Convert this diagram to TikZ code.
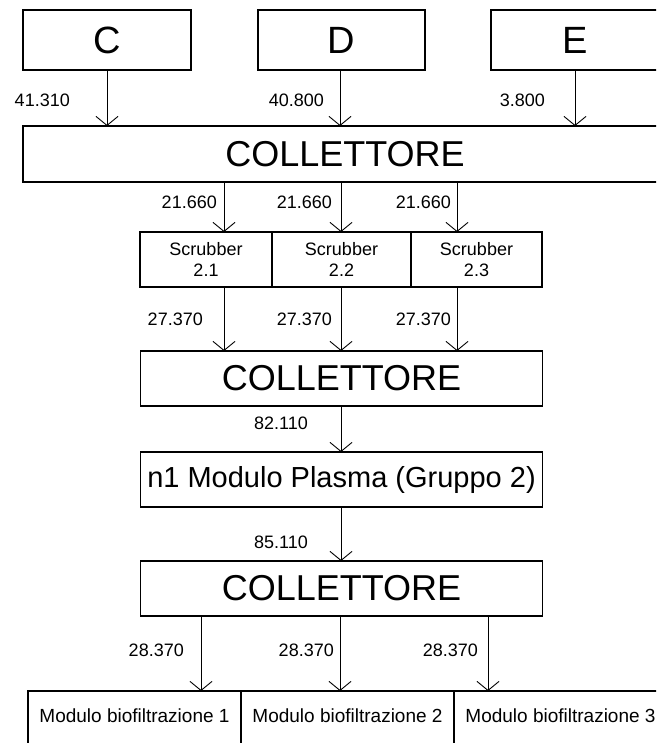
\documentclass[tikz,border=0pt]{standalone}
\usepackage{fontspec}
\setmainfont{Liberation Sans}
\usetikzlibrary{positioning,arrows.meta}

\begin{document}
\begin{tikzpicture}[x=1pt,y=-1pt,
    box/.style={draw,line width=1.2pt,inner sep=0pt,outer sep=0pt,align=center},
    arr/.style={-{Straight Barb[length=9pt,width=22pt]},line width=0.9pt},
    lbl/.style={inner sep=0pt,anchor=east,font=\fontsize{18}{21.6}\selectfont}
  ]
    \useasboundingbox (0,0) rectangle (656,743);
    \clip (0,0) rectangle (656,743);
    % sources
    \node[box,minimum width=168pt,minimum height=60pt,font=\fontsize{38}{40}\selectfont] (c) at (107,40) {C};
    \node[box,minimum width=167pt,minimum height=60pt,font=\fontsize{38}{40}\selectfont] (d) at (341.5,40) {D};
    \node[box,minimum width=168pt,minimum height=60pt,font=\fontsize{38}{40}\selectfont] (e) at (575,40) {E};
    \node[box,minimum width=644pt,minimum height=56pt,font=\fontsize{36}{40}\selectfont] (coll1) at (345,154) {COLLETTORE};
    % scrubbers
    \node[box,anchor=north west,minimum width=132pt,minimum height=55pt,font=\fontsize{18}{21.6}\selectfont] (scr1) at (140,232) {Scrubber\\2.1};
    \node[box,right=0pt of scr1,minimum width=139pt,minimum height=55pt,font=\fontsize{18}{21.6}\selectfont] (scr2) {Scrubber\\2.2};
    \node[box,right=0pt of scr2,minimum width=131pt,minimum height=55pt,font=\fontsize{18}{21.6}\selectfont] (scr3) {Scrubber\\2.3};
    \node[box,below=64pt of scr2,minimum width=402pt,minimum height=55pt,font=\fontsize{36}{40}\selectfont] (coll2) {COLLETTORE};
    \node[box,below=46pt of coll2,minimum width=402pt,minimum height=55pt,font=\fontsize{29}{32}\selectfont] (plasma) {n1 Modulo Plasma (Gruppo 2)};
    \node[box,below=54pt of plasma,minimum width=402pt,minimum height=55pt,font=\fontsize{36}{40}\selectfont] (coll3) {COLLETTORE};
    % biofilters
    \node[box,anchor=north west,minimum width=213pt,text height=31pt,text depth=80pt,font=\fontsize{19}{22}\selectfont] (mod1) at (28,691) {Modulo biofiltrazione 1};
    \node[box,right=0pt of mod1,minimum width=213pt,text height=31pt,text depth=80pt,font=\fontsize{19}{22}\selectfont] (mod2) {Modulo biofiltrazione 2};
    \node[box,right=0pt of mod2,minimum width=213pt,text height=31pt,text depth=80pt,font=\fontsize{19}{22}\selectfont] (mod3) {Modulo biofiltrazione 3};
    % flow lines
    \coordinate (s1) at (224,200);
    \coordinate (s2) at (341,200);
    \coordinate (s3) at (457,200);
    \coordinate (b1) at (201,650);
    \coordinate (b2) at (340,650);
    \coordinate (b3) at (488,650);
    \draw[arr] (c.south) -- (c.south |- coll1.north);
    \draw[arr] ([xshift=-1.5pt]d.south) -- ([xshift=-1.5pt]d.south |- coll1.north);
    \draw[arr] (e.south) -- (e.south |- coll1.north);
    \draw[arr] (s1 |- coll1.south) -- (s1 |- scr1.north);
    \draw[arr] (s2 |- coll1.south) -- (s2 |- scr2.north);
    \draw[arr] (s3 |- coll1.south) -- (s3 |- scr3.north);
    \draw[arr] (s1 |- scr1.south) -- (s1 |- coll2.north);
    \draw[arr] (s2 |- scr2.south) -- (s2 |- coll2.north);
    \draw[arr] (s3 |- scr3.south) -- (s3 |- coll2.north);
    \draw[arr] (s2 |- coll2.south) -- (s2 |- plasma.north);
    \draw[arr] (s2 |- plasma.south) -- (s2 |- coll3.north);
    \draw[arr] (b1 |- coll3.south) -- (b1 |- mod1.north);
    \draw[arr] (b2 |- coll3.south) -- (b2 |- mod2.north);
    \draw[arr] (b3 |- coll3.south) -- (b3 |- mod3.north);
    % flow rates
    \node[lbl] (qc) at (70,100) {41.310};
    \node[lbl] (qd) at (324,100) {40.800};
    \node[lbl] (qe) at (545,100) {3.800};
    \node[lbl] (qin1) at (217,202) {21.660};
    \node[lbl] (qin2) at (332,202) {21.660};
    \node[lbl] (qin3) at (451,202) {21.660};
    \node[lbl] (qout1) at (203,319) {27.370};
    \node[lbl] (qout2) at (332,319) {27.370};
    \node[lbl] (qout3) at (451,319) {27.370};
    \node[lbl] (qpl) at (308,423) {82.110};
    \node[lbl] (qcoll) at (308,542) {85.110};
    \node[lbl] (qb1) at (184,650) {28.370};
    \node[lbl] (qb2) at (334,650) {28.370};
    \node[lbl] (qb3) at (478,650) {28.370};
\end{tikzpicture}
\end{document}
